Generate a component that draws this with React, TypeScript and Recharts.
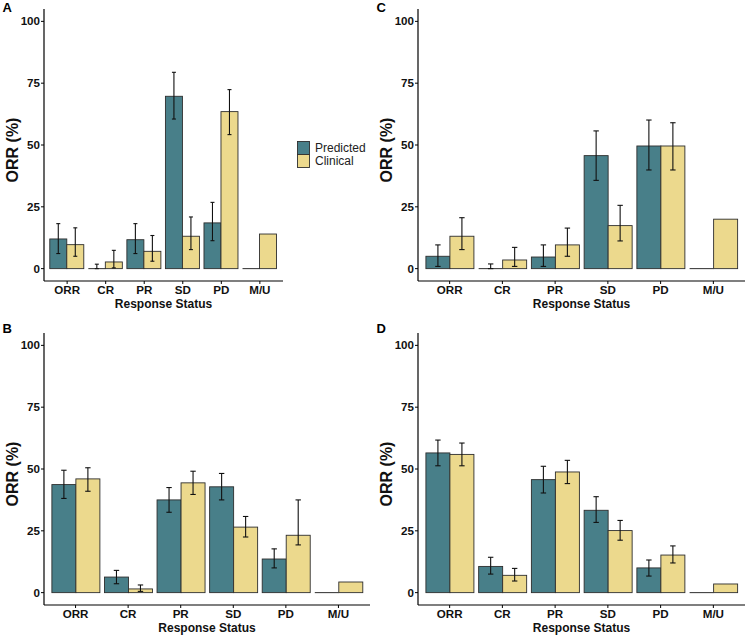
import { BarChart, Bar, XAxis, YAxis, ErrorBar } from "recharts";

const CATEGORIES = ["ORR", "CR", "PR", "SD", "PD", "M/U"];
const Y_TICKS = [0, 25, 50, 75, 100];

// A
const A_PRED = [12.0, 0.3, 11.7, 69.7, 18.5, 0];
const A_PRED_LOW = [6.1, 0, 6.1, 60.5, 11.3, null];
const A_PRED_HIGH = [18.2, 1.8, 18.2, 79.4, 26.8, null];
const A_CLIN = [9.7, 2.7, 7.0, 13.1, 63.5, 14.0];
const A_CLIN_LOW = [5.0, 0.3, 3.0, 7.7, 54.2, null];
const A_CLIN_HIGH = [16.5, 7.4, 13.4, 20.9, 72.4, null];

// B
const B_PRED = [43.7, 6.3, 37.5, 42.8, 13.6, 0];
const B_PRED_LOW = [38.1, 3.6, 32.5, 37.5, 10.0, null];
const B_PRED_HIGH = [49.5, 9.0, 42.5, 48.2, 17.7, null];
const B_CLIN = [46.0, 1.5, 44.4, 26.5, 23.2, 4.3];
const B_CLIN_LOW = [41.0, 0.5, 39.7, 22.5, 19.3, null];
const B_CLIN_HIGH = [50.5, 3.1, 49.1, 30.8, 37.5, null];

// C
const C_PRED = [5.0, 0.3, 4.7, 45.7, 49.6, 0];
const C_PRED_LOW = [0.9, 0, 0.9, 35.7, 39.9, null];
const C_PRED_HIGH = [9.6, 1.9, 9.6, 55.7, 60.1, null];
const C_CLIN = [13.1, 3.5, 9.6, 17.4, 49.6, 20.0];
const C_CLIN_LOW = [7.7, 0.9, 5.0, 11.2, 39.9, null];
const C_CLIN_HIGH = [20.6, 8.6, 16.4, 25.6, 59.0, null];

// D
const D_PRED = [56.5, 10.6, 45.7, 33.3, 10.0, 0];
const D_PRED_LOW = [51.3, 7.5, 40.3, 28.4, 6.7, null];
const D_PRED_HIGH = [61.7, 14.3, 51.1, 38.8, 13.2, null];
const D_CLIN = [55.9, 7.0, 48.8, 25.1, 15.2, 3.5];
const D_CLIN_LOW = [51.3, 4.7, 44.1, 21.2, 12.0, null];
const D_CLIN_HIGH = [60.5, 9.8, 53.5, 29.2, 18.9, null];

const TEAL = "#487f89";
const YELLOW = "#ecd98d";
const OUTLINE = "#2e2e2e";
const FONT = "'Liberation Sans', Arial, sans-serif";

type N = number | null;

function buildRows(
  pred: number[], predLo: N[], predHi: N[],
  clin: number[], clinLo: N[], clinHi: N[]
) {
  return CATEGORIES.map((name, i) => ({
    name,
    predicted: pred[i],
    clinical: clin[i],
    predictedErr:
      predLo[i] == null ? null : [pred[i] - (predLo[i] as number), (predHi[i] as number) - pred[i]],
    clinicalErr:
      clinLo[i] == null ? null : [clin[i] - (clinLo[i] as number), (clinHi[i] as number) - clin[i]],
  }));
}

function OutlinedBar(props: any) {
  const { x, y, width, height, fill } = props;
  if (!(height > 0.9)) {
    const base = y + (height || 0);
    return <line x1={x} x2={x + width} y1={base} y2={base} stroke={OUTLINE} strokeWidth={1} />;
  }
  return (
    <rect x={x} y={y} width={width} height={height} fill={fill} stroke={OUTLINE} strokeWidth={0.9} />
  );
}

const PLOT_TOP = 9;
const PLOT_H = 272;
const CHART_H = 312;

function Panel({
  letter, rows, left, top, width, axisWidth, titleX, cap,
}: {
  letter: string; rows: any[]; left: number; top: number; width: number;
  axisWidth: number; titleX: number; cap: number;
}) {
  const plotW = width - axisWidth - 2;
  const pad = plotW / 62;
  const cx = axisWidth + plotW / 2;
  const cy = PLOT_TOP + PLOT_H / 2 + 5;
  const tickStyle = { fontSize: 11.6, fontWeight: 700, fill: "#111", fontFamily: FONT };

  return (
    <div style={{ position: "absolute", left, top, width, height: CHART_H }}>
      <BarChart
        width={width}
        height={CHART_H}
        data={rows}
        margin={{ top: PLOT_TOP, right: 2, bottom: 0, left: 0 }}
        barCategoryGap="5%"
        barGap={0}
      >
        <XAxis
          dataKey="name"
          height={CHART_H - PLOT_TOP - PLOT_H}
          padding={{ left: pad, right: pad }}
          axisLine={{ stroke: "#000", strokeWidth: 1.2 }}
          tickLine={{ stroke: "#000" }}
          tickSize={3}
          tickMargin={2}
          tick={tickStyle}
          interval={0}
          label={{
            content: () => (
              <text
                x={cx}
                y={PLOT_TOP + PLOT_H + 27}
                textAnchor="middle"
                fontSize={12}
                fontWeight={700}
                fill="#111"
                fontFamily={FONT}
              >
                Response Status
              </text>
            ),
          }}
        />
        <YAxis
          width={axisWidth}
          domain={[-5, 105]}
          ticks={Y_TICKS}
          allowDataOverflow
          axisLine={{ stroke: "#000", strokeWidth: 1.2 }}
          tickLine={{ stroke: "#000" }}
          tickSize={3}
          tickMargin={1}
          tick={tickStyle}
          label={{
            content: () => (
              <text
                x={titleX}
                y={cy}
                transform={`rotate(-90 ${titleX} ${cy})`}
                textAnchor="middle"
                dominantBaseline="central"
                fontSize={16}
                fontWeight={700}
                fill="#111"
                fontFamily={FONT}
              >
                ORR (%)
              </text>
            ),
          }}
        />
        <Bar dataKey="predicted" fill={TEAL} shape={<OutlinedBar />} isAnimationActive={false}>
          <ErrorBar dataKey="predictedErr" width={cap} stroke="#111" strokeWidth={1.1} />
        </Bar>
        <Bar dataKey="clinical" fill={YELLOW} shape={<OutlinedBar />} isAnimationActive={false}>
          <ErrorBar dataKey="clinicalErr" width={cap} stroke="#111" strokeWidth={1.1} />
        </Bar>
      </BarChart>
      <div
        style={{
          position: "absolute",
          left: letter === "A" || letter === "B" ? 2.5 : 6.5,
          top: letter === "A" || letter === "C" ? 1 : -2,
          fontFamily: FONT,
          fontWeight: 700,
          fontSize: 13,
          lineHeight: "13px",
          color: "#000",
        }}
      >
        {letter}
      </div>
    </div>
  );
}

function Legend() {
  return (
    <svg
      width={80}
      height={45}
      style={{ position: "absolute", left: 290, top: 130 }}
    >
      <rect x={7.5} y={11.5} width={12} height={13} fill={TEAL} stroke={OUTLINE} strokeWidth={0.9} />
      <rect x={7.5} y={24.5} width={12} height={13} fill={YELLOW} stroke={OUTLINE} strokeWidth={0.9} />
      <text x={25} y={22.3} fontSize={12} fill="#222" fontFamily={FONT}>
        Predicted
      </text>
      <text x={25} y={35} fontSize={12} fill="#222" fontFamily={FONT}>
        Clinical
      </text>
    </svg>
  );
}

export default function App() {
  const rowsA = buildRows(A_PRED, A_PRED_LOW, A_PRED_HIGH, A_CLIN, A_CLIN_LOW, A_CLIN_HIGH);
  const rowsB = buildRows(B_PRED, B_PRED_LOW, B_PRED_HIGH, B_CLIN, B_CLIN_LOW, B_CLIN_HIGH);
  const rowsC = buildRows(C_PRED, C_PRED_LOW, C_PRED_HIGH, C_CLIN, C_CLIN_LOW, C_CLIN_HIGH);
  const rowsD = buildRows(D_PRED, D_PRED_LOW, D_PRED_HIGH, D_CLIN, D_CLIN_LOW, D_CLIN_HIGH);

  return (
    <div
      style={{
        position: "absolute",
        left: 0,
        top: 0,
        width: 747,
        height: 636,
        background: "#fff",
        overflow: "hidden",
      }}
    >
      <Panel letter="A" rows={rowsA} left={0} top={0} width={285} axisWidth={44} titleX={12} cap={2} />
      <Panel letter="B" rows={rowsB} left={0} top={324} width={372} axisWidth={44} titleX={12} cap={2.7} />
      <Panel letter="C" rows={rowsC} left={370} top={0} width={377} axisWidth={48} titleX={16} cap={2.7} />
      <Panel letter="D" rows={rowsD} left={370} top={324} width={377} axisWidth={48} titleX={16} cap={2.7} />
      <Legend />
    </div>
  );
}
